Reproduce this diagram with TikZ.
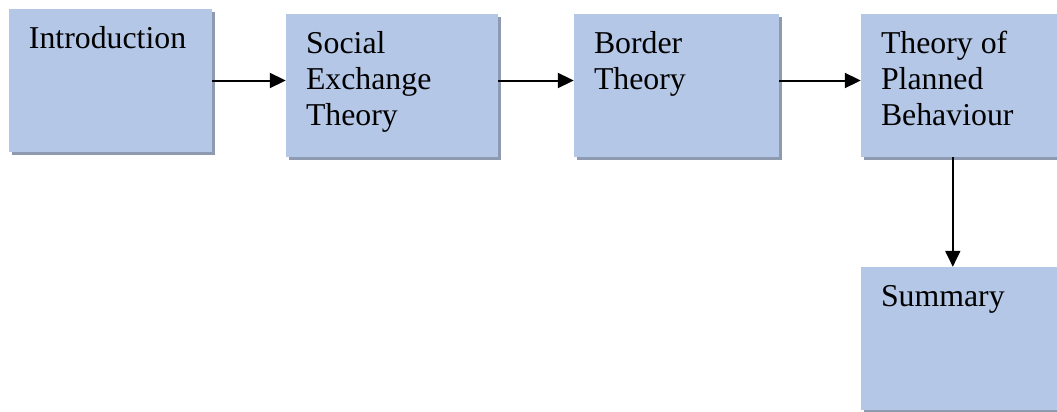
\documentclass[tikz,border=0pt]{standalone}
\usepackage{fontspec}
\setmainfont{Liberation Serif}
\usetikzlibrary{arrows.meta}
\usetikzlibrary{shadows}

\definecolor{boxblue}{HTML}{B4C7E7}
\definecolor{shadowgray}{HTML}{8E9AB0}

% top-left text inside a stage box
\newcommand{\stagetext}[2]{\parbox[t][143pt][t]{#1}{\raggedright\leftskip=20pt
  \vspace*{14.4pt}\strut #2}}

\begin{document}
\begin{tikzpicture}[x=1pt,y=-1pt,
    stage/.style={fill=boxblue, inner sep=0pt,
      drop shadow={shadow xshift=3pt, shadow yshift=-3pt, fill=shadowgray, opacity=1},
      font=\fontsize{31.8}{36}\selectfont},
    flow/.style={line width=2pt, -{Triangle[length=16pt,width=15pt]}}]

    \useasboundingbox (0,0) rectangle (1057,412);

    % stages
    \node[stage] (intro) at (110.5,80.5) {\stagetext{203pt}{Introduction}};
    \node[stage] (social) at (392,85.5) {\stagetext{212pt}{Social\\Exchange\\Theory}};
    \node[stage] (border) at (676.5,85.5) {\stagetext{205pt}{Border\\Theory}};
    \node[stage] (tpb) at (963.5,85.5) {\stagetext{205pt}{Theory of\\Planned\\Behaviour}};
    \node[stage] (sum) at (963.5,338.5) {\stagetext{205pt}{Summary}};

    % arrows
    \draw[flow] (intro.east) -- (intro.east -| social.west);
    \draw[flow] (social.east |- intro.east) -- (border.west |- intro.east);
    \draw[flow] (border.east |- intro.east) -- (tpb.west |- intro.east);
    \draw[flow] ([xshift=92pt]tpb.south west) -- ([xshift=92pt]sum.north west);
\end{tikzpicture}
\end{document}
